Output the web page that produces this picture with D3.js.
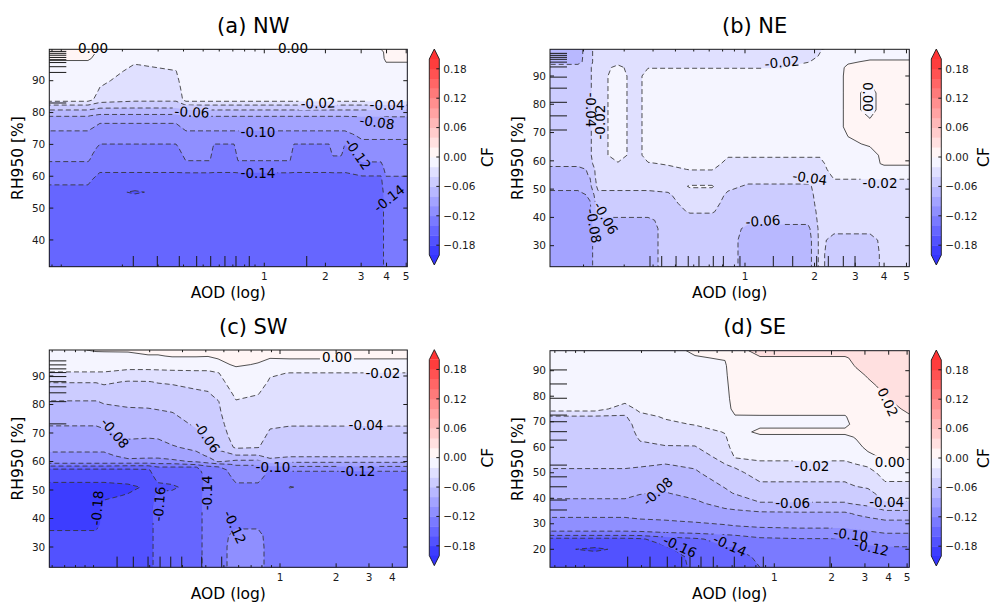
<!DOCTYPE html>
<html><head><meta charset="utf-8">
<script src="https://cdn.jsdelivr.net/npm/d3@7"></script>
<style>body{margin:0;background:#fff}svg{display:block;font-family:"DejaVu Sans",sans-serif}</style>
</head><body><svg id="chart" width="995" height="604"></svg>
<script>
// ---------------- DATA ----------------
const cfLevels = [-0.2,-0.18,-0.16,-0.14,-0.12,-0.1,-0.08,-0.06,-0.04,-0.02,0,0.02,0.04,0.06,0.08,0.1,0.12,0.14,0.16,0.18,0.2];
const cbTicks = [-0.18,-0.12,-0.06,0,0.06,0.12,0.18];
const xMajorTicks = [1,2,3,4,5];
const xMinorTicks = [0.06,0.07,0.08,0.09,0.1,0.2,0.3,0.4,0.5,0.6,0.7,0.8,0.9];
const yTicksA = [40,50,60,70,80,90];
const yTicksB = [30,40,50,60,70,80,90];
const yTicksC = [30,40,50,60,70,80,90];
const yTicksD = [20,30,40,50,60,70,80,90];

// (a) NW : AOD columns, RH rows, CF per column (bottom -> top)
const aodA = [0.0873,0.1353,0.1551,0.2307,0.3673,0.4114,0.540,0.565,0.709,0.742,1.339,1.401,2.083,2.180,2.387,2.497,3.029,3.757,3.977,5.063];
const rhA = [31.6,40,50,53,55,57,59,61,63,65,67,69,71,73,75,77,79,81,82.5,84,87,90,93,95,97,99,100];
const cfA = [
 [-.15,-.15,-.15,-.148,-.146,-.1405,-.137,-.133,-.126,-.1185,-.116,-.113,-.11,-.105,-.097,-.09,-.079,-.058,-.038,-.012,-.01,-.009,-.007,-.004,.002,.004,.004],
 [-.15,-.15,-.15,-.148,-.146,-.1405,-.137,-.133,-.126,-.1185,-.116,-.113,-.11,-.105,-.097,-.09,-.079,-.058,-.038,-.012,-.01,-.009,-.007,-.004,.002,.004,.004],
 [-.15,-.15,-.15,-.15,-.15,-.148,-.145,-.1405,-.135,-.13,-.126,-.1225,-.118,-.112,-.106,-.0985,-.084,-.064,-.048,-.03,-.0215,-.017,-.012,-.009,-.005,-.002,.0005],
 [-.15,-.15,-.15,-.152,-.163,-.15,-.146,-.1405,-.135,-.13,-.126,-.1225,-.118,-.112,-.106,-.0985,-.084,-.064,-.05,-.036,-.03,-.027,-.024,-.0205,-.012,-.008,.0005],
 [-.15,-.15,-.15,-.15,-.15,-.148,-.145,-.1405,-.135,-.13,-.126,-.1225,-.118,-.112,-.106,-.0985,-.084,-.064,-.05,-.036,-.03,-.025,-.0205,-.015,-.01,-.006,.0005],
 [-.15,-.15,-.15,-.15,-.15,-.148,-.145,-.1405,-.128,-.1195,-.116,-.113,-.11,-.105,-.097,-.09,-.079,-.058,-.038,-.012,-.01,-.008,-.007,-.006,-.005,-.004,.0005],
 [-.15,-.15,-.15,-.15,-.15,-.148,-.145,-.1405,-.128,-.1195,-.116,-.113,-.11,-.105,-.097,-.09,-.079,-.058,-.038,-.012,-.01,-.008,-.007,-.006,-.005,-.004,.0005],
 [-.15,-.15,-.15,-.15,-.15,-.148,-.145,-.1405,-.135,-.13,-.126,-.1225,-.118,-.105,-.097,-.09,-.079,-.058,-.038,-.012,-.01,-.008,-.007,-.006,-.005,-.004,.0005],
 [-.15,-.15,-.15,-.15,-.15,-.148,-.145,-.1405,-.135,-.13,-.126,-.1225,-.118,-.105,-.097,-.09,-.079,-.058,-.038,-.012,-.01,-.008,-.007,-.006,-.005,-.004,.0005],
 [-.15,-.15,-.15,-.15,-.15,-.148,-.145,-.1405,-.128,-.1195,-.116,-.113,-.11,-.105,-.097,-.09,-.079,-.058,-.038,-.012,-.01,-.008,-.007,-.006,-.005,-.004,.0005],
 [-.15,-.15,-.15,-.15,-.15,-.148,-.145,-.1405,-.128,-.1195,-.116,-.113,-.11,-.105,-.097,-.09,-.079,-.058,-.038,-.012,-.01,-.008,-.007,-.006,-.005,-.004,.0005],
 [-.15,-.15,-.15,-.15,-.15,-.148,-.145,-.1405,-.135,-.13,-.126,-.1225,-.118,-.105,-.097,-.09,-.079,-.058,-.038,-.012,-.01,-.008,-.007,-.006,-.005,-.004,.0005],
 [-.15,-.15,-.15,-.15,-.15,-.148,-.145,-.1405,-.135,-.13,-.126,-.1225,-.118,-.105,-.097,-.09,-.079,-.058,-.038,-.012,-.01,-.008,-.007,-.006,-.005,-.004,.0005],
 [-.15,-.15,-.15,-.15,-.15,-.148,-.145,-.1405,-.13,-.1245,-.118,-.114,-.11,-.105,-.097,-.09,-.079,-.058,-.038,-.012,-.01,-.008,-.007,-.006,-.005,-.004,.0005],
 [-.15,-.15,-.15,-.15,-.15,-.148,-.145,-.1405,-.13,-.1245,-.118,-.114,-.11,-.105,-.097,-.09,-.079,-.058,-.038,-.012,-.01,-.008,-.007,-.006,-.005,-.004,.0005],
 [-.15,-.15,-.15,-.15,-.15,-.148,-.145,-.1405,-.135,-.13,-.126,-.1225,-.118,-.105,-.097,-.09,-.079,-.058,-.038,-.012,-.01,-.008,-.007,-.006,-.005,-.004,.0005],
 [-.15,-.15,-.15,-.15,-.148,-.145,-.143,-.1375,-.126,-.118,-.112,-.106,-.1015,-.096,-.09,-.085,-.079,-.058,-.038,-.012,-.01,-.008,-.007,-.006,-.005,-.004,.0005],
 [-.15,-.15,-.15,-.15,-.148,-.145,-.143,-.1375,-.126,-.118,-.112,-.106,-.1015,-.096,-.09,-.085,-.079,-.058,-.038,-.012,-.01,-.008,-.007,-.006,-.005,-.004,.0005],
 [-.13,-.13,-.13,-.13,-.13,-.128,-.124,-.116,-.113,-.11,-.107,-.104,-.1015,-.096,-.09,-.085,-.079,-.058,-.038,-.012,-.01,-.008,-.006,-.002,.003,.004,.004],
 [-.13,-.13,-.13,-.13,-.13,-.128,-.124,-.116,-.113,-.11,-.107,-.104,-.1015,-.096,-.09,-.085,-.079,-.058,-.038,-.012,-.01,-.008,-.006,-.002,.003,.004,.004]
];
const labelsA = [
 {v:0,aod:0.1433,rh:100.4,r:0},{v:0,aod:1.385,rh:100.4,r:0},
 {v:-0.02,aod:1.839,rh:83.0,r:-2},{v:-0.04,aod:4.022,rh:82.4,r:0},
 {v:-0.06,aod:0.4403,rh:80.2,r:3},{v:-0.08,aod:3.592,rh:77.0,r:8},
 {v:-0.10,aod:0.931,rh:73.9,r:0},{v:-0.12,aod:2.894,rh:67.0,r:55},
 {v:-0.14,aod:0.931,rh:61.0,r:0},{v:-0.14,aod:4.115,rh:53.1,r:-38}
];
const rugAodA = [0.2263,0.2972,0.3813,0.4645,0.5445,0.640,0.7254,0.8434,1.618];
const rugRhA = [99.2,98.6,98.0,97.3,96.6,95.7,94.4,92.6,83.0];

// (b) NE
const aodB = [0.1432,0.1892,0.2133,0.2310,0.2819,0.3374,0.3803,0.4642,0.5778,0.7198,0.8441,1.0304,1.4175,1.8737,2.112,2.428,2.792,3.476,3.997,5.143];
const rhB = [22.6,27,32,36,39,42,45,48,51,53,55,57,59,62,66,72,78,84,90,93,95,97,99.4];
const cfB = [
 [-.09,-.09,-.09,-.09,-.09,-.09,-.09,-.09,-.07,-.07,-.07,-.07,-.05,-.05,-.05,-.05,-.05,-.05,-.05,-.05,-.068,-.07,-.07],
 [-.09,-.09,-.09,-.09,-.09,-.09,-.09,-.09,-.07,-.07,-.07,-.07,-.05,-.05,-.05,-.05,-.05,-.05,-.05,-.05,-.068,-.07,-.07],
 [-.085,-.085,-.085,-.085,-.085,-.085,-.082,-.075,-.065,-.062,-.058,-.055,-.045,-.042,-.042,-.042,-.042,-.042,-.042,-.042,-.045,-.045,-.045],
 [-.07,-.07,-.07,-.07,-.065,-.05,-.05,-.045,-.035,-.032,-.03,-.03,-.03,-.03,-.03,-.03,-.03,-.03,-.03,-.03,-.03,-.03,-.03],
 [-.07,-.07,-.07,-.07,-.065,-.05,-.05,-.045,-.035,-.032,-.03,-.028,-.022,-.01,-.01,-.01,-.01,-.01,-.01,-.015,-.026,-.03,-.03],
 [-.07,-.07,-.07,-.07,-.065,-.05,-.05,-.045,-.035,-.032,-.03,-.03,-.03,-.03,-.03,-.03,-.03,-.03,-.03,-.03,-.03,-.03,-.03],
 [-.07,-.07,-.07,-.07,-.065,-.05,-.05,-.045,-.035,-.032,-.03,-.028,-.022,-.01,-.01,-.01,-.01,-.01,-.01,-.021,-.03,-.03,-.03],
 [-.05,-.05,-.05,-.05,-.05,-.05,-.045,-.042,-.035,-.03,-.03,-.025,-.018,-.01,-.01,-.01,-.01,-.01,-.01,-.021,-.03,-.03,-.03],
 [-.05,-.05,-.05,-.05,-.05,-.038,-.034,-.03,-.018,-.03,-.028,-.019,-.012,-.01,-.01,-.01,-.01,-.01,-.01,-.021,-.03,-.03,-.03],
 [-.05,-.05,-.05,-.05,-.05,-.038,-.034,-.03,-.018,-.03,-.028,-.019,-.012,-.01,-.01,-.01,-.01,-.01,-.01,-.021,-.03,-.03,-.03],
 [-.05,-.05,-.05,-.05,-.05,-.05,-.046,-.043,-.036,-.03,-.03,-.028,-.026,-.018,-.01,-.01,-.01,-.01,-.01,-.021,-.03,-.03,-.03],
 [-.07,-.07,-.07,-.065,-.055,-.05,-.046,-.044,-.042,-.037,-.03,-.028,-.026,-.018,-.01,-.01,-.01,-.01,-.01,-.021,-.03,-.03,-.03],
 [-.07,-.07,-.07,-.065,-.055,-.05,-.046,-.044,-.042,-.037,-.03,-.028,-.026,-.018,-.01,-.01,-.01,-.01,-.01,-.021,-.03,-.03,-.03],
 [-.07,-.07,-.07,-.065,-.055,-.05,-.046,-.044,-.042,-.037,-.03,-.028,-.026,-.018,-.01,-.01,-.01,-.01,-.01,-.01,-.021,-.03,-.03],
 [-.035,-.035,-.035,-.035,-.035,-.035,-.035,-.035,-.035,-.033,-.03,-.028,-.026,-.018,-.01,-.01,-.01,-.01,-.01,-.01,-.014,-.018,-.022],
 [-.05,-.05,-.046,-.035,-.033,-.032,-.03,-.026,-.023,-.021,-.017,-.012,-.008,-.008,-.008,-.008,-.008,-.008,-.008,-.008,-.007,-.006,-.006],
 [-.05,-.05,-.046,-.035,-.033,-.032,-.03,-.026,-.023,-.021,-.017,-.012,-.008,-.006,-.003,.004,.004,.004,.004,.003,-.002,-.004,-.004],
 [-.05,-.05,-.046,-.035,-.033,-.032,-.03,-.026,-.023,-.021,-.017,-.012,-.008,-.006,.002,.003,-.003,-.003,.002,.004,.002,-.004,-.004],
 [-.035,-.035,-.035,-.033,-.033,-.032,-.03,-.026,-.023,-.021,-.017,-.008,.003,.004,.004,.004,.004,.004,.004,.004,.002,-.004,-.004],
 [-.035,-.035,-.035,-.033,-.033,-.032,-.03,-.026,-.023,-.021,-.017,-.008,.003,.004,.004,.004,.004,.004,.004,.004,.002,-.004,-.004]
];
const labelsB = [
 {v:-0.02,aod:1.446,rh:94.9,r:-5},{v:-0.04,aod:0.2154,rh:78.0,r:90},
 {v:-0.02,aod:0.2357,rh:73.7,r:-90},{v:0,aod:3.407,rh:82.6,r:90},
 {v:-0.04,aod:1.911,rh:54.0,r:8},{v:-0.02,aod:3.841,rh:52.2,r:0},
 {v:-0.06,aod:1.196,rh:38.8,r:-3},{v:-0.06,aod:0.2502,rh:39.8,r:60},
 {v:-0.08,aod:0.2220,rh:37.0,r:80}
];
const rugAodB = [0.388,0.436,0.503,0.568,0.632,0.729,0.806,0.951,1.326,1.609,2.043,2.294,2.664,2.994];
const rugRhB = [98.0,97.3,96.6,95.9,94.9,93.2,89.6,85.7,80.7,75.9,70.9];

// (c) SW
const aodC = [0.0579,0.1031,0.1138,0.1531,0.1960,0.2218,0.2636,0.3545,0.4112,0.4652,0.5807,0.7621,0.8839,1.1313,1.8537,4.816];
const rhC = [22.9,30,34,38,44,48,51,53.5,55.5,57,58,59,60,62,65,69,73,77,81,84,88,91,94,97,99.1];
const cfC = [
 [-.17,-.17,-.172,-.19,-.19,-.19,-.19,-.175,-.168,-.165,-.15,-.125,-.112,-.104,-.095,-.087,-.079,-.07,-.061,-.05,-.039,-.021,-.014,-.01,-.008],
 [-.17,-.17,-.172,-.19,-.19,-.19,-.19,-.175,-.168,-.165,-.15,-.125,-.112,-.104,-.095,-.087,-.079,-.07,-.061,-.05,-.039,-.021,-.014,-.006,.002],
 [-.17,-.17,-.17,-.17,-.172,-.185,-.19,-.175,-.168,-.165,-.15,-.125,-.112,-.104,-.095,-.085,-.077,-.068,-.058,-.048,-.037,-.021,-.014,-.005,.002],
 [-.17,-.17,-.17,-.17,-.17,-.178,-.186,-.172,-.168,-.165,-.15,-.13,-.105,-.095,-.087,-.077,-.07,-.064,-.056,-.048,-.041,-.025,-.013,-.004,.002],
 [-.17,-.17,-.17,-.17,-.17,-.172,-.176,-.17,-.166,-.163,-.15,-.13,-.106,-.096,-.088,-.078,-.07,-.063,-.056,-.048,-.0405,-.025,-.013,-.001,.004],
 [-.15,-.15,-.15,-.15,-.15,-.155,-.165,-.157,-.152,-.148,-.141,-.125,-.106,-.096,-.088,-.077,-.069,-.062,-.055,-.047,-.039,-.025,-.012,-.001,.004],
 [-.15,-.15,-.15,-.15,-.15,-.155,-.163,-.155,-.151,-.146,-.141,-.125,-.104,-.093,-.082,-.072,-.066,-.0605,-.053,-.046,-.038,-.025,-.01,.001,.004],
 [-.15,-.15,-.15,-.15,-.15,-.15,-.152,-.15,-.148,-.145,-.141,-.118,-.098,-.086,-.075,-.064,-.058,-.053,-.047,-.042,-.036,-.024,-.01,.001,.004],
 [-.13,-.13,-.13,-.13,-.13,-.13,-.132,-.133,-.133,-.132,-.125,-.11,-.09,-.078,-.068,-.058,-.052,-.048,-.044,-.041,-.034,-.024,-.01,.0005,.004],
 [-.13,-.13,-.13,-.13,-.13,-.13,-.132,-.132,-.132,-.132,-.122,-.105,-.078,-.066,-.057,-.05,-.046,-.043,-.041,-.034,-.026,-.021,-.004,.002,.005],
 [-.11,-.11,-.113,-.125,-.127,-.126,-.123,-.118,-.113,-.108,-.104,-.098,-.085,-.062,-.037,-.032,-.029,-.026,-.021,-.016,-.01,-.006,.002,.005,.006],
 [-.11,-.11,-.113,-.125,-.127,-.126,-.123,-.118,-.113,-.108,-.104,-.098,-.085,-.062,-.039,-.034,-.031,-.028,-.024,-.019,-.012,-.008,-.001,.004,.006],
 [-.13,-.13,-.13,-.13,-.13,-.13,-.128,-.126,-.124,-.121,-.105,-.09,-.07,-.052,-.048,-.043,-.038,-.034,-.03,-.027,-.022,-.018,-.008,.003,.006],
 [-.13,-.13,-.13,-.13,-.13,-.13,-.119,-.128,-.125,-.118,-.103,-.092,-.075,-.057,-.052,-.046,-.039,-.034,-.031,-.028,-.024,-.0205,-.006,.003,.006],
 [-.13,-.13,-.13,-.13,-.13,-.13,-.13,-.128,-.125,-.118,-.103,-.092,-.075,-.057,-.052,-.046,-.039,-.034,-.031,-.028,-.024,-.0205,-.006,.003,.006],
 [-.13,-.13,-.13,-.13,-.13,-.13,-.13,-.128,-.125,-.118,-.103,-.092,-.075,-.057,-.052,-.046,-.039,-.034,-.031,-.028,-.024,-.0205,-.006,.003,.006]
];
const labelsC = [
 {v:0,aod:2.021,rh:96.5,r:0},{v:-0.02,aod:3.566,rh:91.2,r:0},
 {v:-0.04,aod:2.892,rh:72.8,r:0},{v:-0.08,aod:0.1304,rh:70.0,r:50},
 {v:-0.06,aod:0.4061,rh:68.6,r:55},{v:-0.10,aod:0.917,rh:58.1,r:0},
 {v:-0.12,aod:2.620,rh:56.8,r:0},{v:-0.18,aod:0.1044,rh:43.7,r:-85},
 {v:-0.16,aod:0.2245,rh:45.1,r:-85},{v:-0.14,aod:0.4036,rh:49.0,r:-90},
 {v:-0.12,aod:0.5738,rh:37.0,r:65}
];
const rugAodC = [0.1337,0.1634,0.196,0.2274,0.2594,0.2972,0.3803,0.4868];
const rugRhC = [95.3,93.9,92.5,91.2,89.8,88.0,86.2,84.1,81.0,73.2];

// (d) SE
const aodD = [0.0660,0.1138,0.1637,0.1965,0.2659,0.3825,0.5502,0.6212,0.8407,1.3653,2.356,2.692,3.112,3.825,5.135];
const rhD = [12.9,17,20,22,24,26,28,31,34,38,42,46,50,53,56,60,64,66,69,72,75,79,84,88,92,95,97.8];
const cfD = [
 [-.17,-.172,-.176,-.174,-.166,-.13,-.112,-.105,-.095,-.085,-.074,-.07,-.066,-.055,-.051,-.05,-.048,-.047,-.046,-.042,-.012,-.01,-.009,-.008,-.007,-.006,-.005],
 [-.17,-.172,-.183,-.174,-.166,-.13,-.112,-.105,-.095,-.085,-.074,-.07,-.066,-.055,-.051,-.05,-.048,-.047,-.046,-.042,-.012,-.01,-.009,-.008,-.007,-.006,-.005],
 [-.17,-.172,-.176,-.174,-.166,-.13,-.112,-.105,-.095,-.085,-.074,-.07,-.066,-.055,-.051,-.05,-.048,-.047,-.046,-.042,-.03,-.012,-.009,-.008,-.007,-.006,-.005],
 [-.165,-.168,-.172,-.17,-.163,-.13,-.11,-.102,-.095,-.087,-.079,-.072,-.066,-.058,-.052,-.043,-.038,-.036,-.033,-.026,-.015,-.01,-.008,-.007,-.006,-.005,-.005],
 [-.166,-.166,-.163,-.158,-.15,-.125,-.108,-.101,-.094,-.088,-.081,-.075,-.068,-.061,-.054,-.041,-.035,-.031,-.024,-.018,-.012,-.009,-.008,-.007,-.006,-.005,-.005],
 [-.158,-.157,-.152,-.148,-.143,-.122,-.107,-.099,-.092,-.084,-.074,-.068,-.063,-.057,-.05,-.041,-.033,-.028,-.019,-.012,-.009,-.008,-.007,-.006,-.004,-.001,.002],
 [-.148,-.145,-.141,-.138,-.133,-.118,-.105,-.096,-.088,-.072,-.063,-.057,-.046,-.041,-.034,-.027,-.022,-.019,-.013,-.008,-.006,-.005,-.004,-.003,-.002,.001,.003],
 [-.146,-.144,-.141,-.139,-.132,-.116,-.104,-.094,-.086,-.07,-.059,-.053,-.045,-.037,-.019,-.012,-.008,-.006,-.004,-.001,.004,.006,.008,.01,.012,.014,.015],
 [-.14,-.138,-.132,-.128,-.123,-.112,-.102,-.092,-.084,-.061,-.052,-.041,-.032,-.025,-.016,-.009,-.003,.003,-.003,-.001,.005,.008,.01,.012,.015,.019,.024],
 [-.136,-.134,-.128,-.124,-.121,-.11,-.101,-.091,-.083,-.061,-.052,-.041,-.032,-.025,-.016,-.009,-.003,.003,-.003,-.001,.005,.008,.01,.012,.015,.019,.024],
 [-.136,-.134,-.128,-.124,-.121,-.11,-.101,-.091,-.083,-.061,-.052,-.041,-.032,-.025,-.016,-.009,-.003,.003,-.003,-.001,.005,.008,.01,.012,.015,.019,.024],
 [-.134,-.132,-.126,-.122,-.118,-.108,-.099,-.089,-.078,-.058,-.048,-.036,-.028,-.021,-.013,-.004,.001,.003,.004,.006,.008,.01,.013,.016,.021,.022,.024],
 [-.133,-.13,-.124,-.119,-.114,-.104,-.097,-.086,-.074,-.055,-.045,-.034,-.026,-.018,-.004,.003,.005,.006,.008,.01,.012,.014,.017,.021,.024,.025,.026],
 [-.132,-.128,-.122,-.118,-.11,-.101,-.094,-.082,-.068,-.042,-.032,-.021,-.014,-.006,.002,.005,.007,.009,.011,.013,.016,.019,.023,.026,.028,.03,.031],
 [-.132,-.127,-.122,-.118,-.11,-.101,-.094,-.082,-.068,-.042,-.032,-.021,-.014,-.006,.002,.005,.008,.012,.016,.019,.022,.026,.03,.034,.036,.037,.038]
];
const labelsD = [
 {v:0.02,aod:3.967,rh:77.7,r:65},{v:0,aod:4.059,rh:54.3,r:0},
 {v:-0.02,aod:1.579,rh:52.6,r:0},{v:-0.04,aod:3.905,rh:38.4,r:0},
 {v:-0.06,aod:1.250,rh:38.0,r:0},{v:-0.08,aod:0.2433,rh:42.8,r:-42},
 {v:-0.10,aod:2.533,rh:25.8,r:8},{v:-0.12,aod:3.255,rh:20.7,r:12},
 {v:-0.14,aod:0.5844,rh:21.6,r:25},{v:-0.16,aod:0.3190,rh:21.2,r:25}
];
const rugAodD = [0.1692,0.2218,0.2734,0.3256,0.3600,0.4114,0.4775,0.6160,0.8752,1.9645];
const rugRhD = [90.3,84.8,79.2,72.6,70.0,66.1,62.8,53.0,48.4,44.5,39.3,35.4];

// ---------------- LAYOUT ----------------
const panels = [
 {id:"a",title:"(a) NW",x0:49.3,x1:407.3,y0:49.3,y1:266.7,xDomain:[0.0873,5.063],yDomain:[31.6,99.86],aod:aodA,rh:rhA,cf:cfA,yTicks:yTicksA,labels:labelsA,rugX:rugAodA,rugY:rugRhA},
 {id:"b",title:"(b) NE",x0:550,x1:909.3,y0:49.3,y1:266.7,xDomain:[0.1432,5.143],yDomain:[22.57,99.44],aod:aodB,rh:rhB,cf:cfB,yTicks:yTicksB,labels:labelsB,rugX:rugAodB,rugY:rugRhB},
 {id:"c",title:"(c) SW",x0:49.3,x1:407.3,y0:350,y1:567.3,xDomain:[0.0579,4.816],yDomain:[22.88,99.12],aod:aodC,rh:rhC,cf:cfC,yTicks:yTicksC,labels:labelsC,rugX:rugAodC,rugY:rugRhC},
 {id:"d",title:"(d) SE",x0:550,x1:909.3,y0:350.7,y1:567.3,xDomain:[0.066,5.135],yDomain:[12.94,97.84],aod:aodD,rh:rhD,cf:cfD,yTicks:yTicksD,labels:labelsD,rugX:rugAodD,rugY:rugRhD}
];

const W=995,H=604;
const svg=d3.select("#chart");
const defs=svg.append("defs");
const INK="#1a1a1a";

function bwr(t){
  t=Math.max(0,Math.min(1,t));
  let r,g,b;
  if(t<0.5){r=g=2*t;b=1;}else{r=1;g=b=2-2*t;}
  const a=0.8;
  return d3.rgb((r*a+1-a)*255,(g*a+1-a)*255,(b*a+1-a)*255).formatHex();
}
function bandColor(lo){return bwr((lo+0.01+0.2)/0.4);}
function fmtLabel(v){return (v<-1e-9?"-":"")+Math.abs(v).toFixed(2);}
function fmtCb(v){return Math.abs(v)<1e-9?"0.00":(v<0?"\u2212":"")+Math.abs(v).toFixed(2);}

panels.forEach(p=>{
  const g=svg.append("g");
  const x=d3.scaleLog().domain(p.xDomain).range([p.x0,p.x1]);
  const y=d3.scaleLinear().domain(p.yDomain).range([p.y1,p.y0]);
  const clipId="clip-"+p.id;
  defs.append("clipPath").attr("id",clipId).append("rect")
    .attr("x",p.x0).attr("y",p.y0).attr("width",p.x1-p.x0).attr("height",p.y1-p.y0);

  const nx=p.aod.length, ny=p.rh.length;
  const grid=new Array(nx*ny);
  p.cf.forEach((col,i)=>col.forEach((v,j)=>{grid[j*nx+i]=v;}));
  const lx=p.aod.map(Math.log10);
  const interp=(arr,t)=>{const i0=Math.max(0,Math.min(arr.length-2,Math.floor(t)));return arr[i0]+(arr[i0+1]-arr[i0])*(t-i0);};
  const px=u=>x(Math.pow(10,interp(lx,u-0.5)));
  const py=v=>y(interp(p.rh,v-0.5));
  const toPath=mp=>mp.coordinates.map(poly=>poly.map(ring=>"M"+ring.map(pt=>px(pt[0]).toFixed(2)+","+py(pt[1]).toFixed(2)).join("L")+"Z").join("")).join("");
  const cs=d3.contours().size([nx,ny]).thresholds(cfLevels)(grid);

  // filled bands
  const fills=g.append("g").attr("clip-path",`url(#${clipId})`);
  fills.append("rect").attr("x",p.x0).attr("y",p.y0).attr("width",p.x1-p.x0).attr("height",p.y1-p.y0).attr("fill",bandColor(-0.22));
  cs.forEach(c=>{ if(c.coordinates.length) fills.append("path").attr("d",toPath(c)).attr("fill",bandColor(c.value)).attr("fill-rule","evenodd"); });

  // contour lines (masked around labels)
  const maskId="mask-"+p.id;
  const mask=defs.append("mask").attr("id",maskId).attr("maskUnits","userSpaceOnUse").attr("x",0).attr("y",0).attr("width",W).attr("height",H);
  mask.append("rect").attr("x",0).attr("y",0).attr("width",W).attr("height",H).attr("fill","#fff");
  const lines=g.append("g").attr("clip-path",`url(#${clipId})`).append("g").attr("mask",`url(#${maskId})`);
  cs.forEach(c=>{
    if(!c.coordinates.length) return;
    lines.append("path").attr("d",toPath(c)).attr("fill","none")
      .attr("stroke","#333").attr("stroke-width",0.85)
      .attr("stroke-dasharray",c.value< -1e-9?"5,3":null);
  });

  // contour labels
  p.labels.forEach(l=>{
    const cx=x(l.aod), cy=y(l.rh);
    const tr=`translate(${cx.toFixed(2)},${cy.toFixed(2)}) rotate(${l.r})`;
    const t=g.append("text").attr("transform",tr).attr("text-anchor","middle").attr("dominant-baseline","central")
      .attr("font-size",13.5).attr("fill","#000").text(fmtLabel(l.v));
    const w=t.node().getComputedTextLength();
    mask.append("rect").attr("x",-w/2-2).attr("y",-6.5).attr("width",w+4).attr("height",13).attr("transform",tr).attr("fill","#000");
  });

  // rug marks
  p.rugX.forEach(v=>g.append("line").attr("x1",x(v)).attr("x2",x(v)).attr("y1",p.y1).attr("y2",p.y1-10.7).attr("stroke",INK).attr("stroke-width",1));
  p.rugY.forEach(v=>g.append("line").attr("x1",p.x0).attr("x2",p.x0+17).attr("y1",y(v)).attr("y2",y(v)).attr("stroke",INK).attr("stroke-width",1));

  // ticks
  const inX=v=>v>=p.xDomain[0]&&v<=p.xDomain[1];
  xMajorTicks.filter(inX).forEach(v=>{
    const xx=x(v);
    g.append("line").attr("x1",xx).attr("x2",xx).attr("y1",p.y1).attr("y2",p.y1-4).attr("stroke",INK);
    g.append("line").attr("x1",xx).attr("x2",xx).attr("y1",p.y0).attr("y2",p.y0+4).attr("stroke",INK);
    g.append("text").attr("x",xx).attr("y",p.y1+13.5).attr("text-anchor","middle").attr("font-size",10.5).attr("fill",INK).text(v);
  });
  xMinorTicks.filter(inX).forEach(v=>{
    const xx=x(v);
    g.append("line").attr("x1",xx).attr("x2",xx).attr("y1",p.y1).attr("y2",p.y1-2.2).attr("stroke",INK);
    g.append("line").attr("x1",xx).attr("x2",xx).attr("y1",p.y0).attr("y2",p.y0+2.2).attr("stroke",INK);
  });
  p.yTicks.forEach(v=>{
    const yy=y(v);
    g.append("line").attr("x1",p.x0).attr("x2",p.x0+4).attr("y1",yy).attr("y2",yy).attr("stroke",INK);
    g.append("line").attr("x1",p.x1).attr("x2",p.x1-4).attr("y1",yy).attr("y2",yy).attr("stroke",INK);
    g.append("text").attr("x",p.x0-4).attr("y",yy+3.7).attr("text-anchor","end").attr("font-size",10.5).attr("fill",INK).text(v);
  });

  // frame
  g.append("rect").attr("x",p.x0).attr("y",p.y0).attr("width",p.x1-p.x0).attr("height",p.y1-p.y0).attr("fill","none").attr("stroke",INK).attr("stroke-width",1);

  // titles & axis labels
  g.append("text").attr("x",(p.x0+p.x1)/2+25).attr("y",p.y0-16.3).attr("text-anchor","middle").attr("font-size",21).attr("fill","#000").text(p.title);
  g.append("text").attr("x",(p.x0+p.x1)/2).attr("y",p.y1+31.3).attr("text-anchor","middle").attr("font-size",15.5).attr("fill","#000").text("AOD (log)");
  g.append("text").attr("transform",`translate(${p.x0-26.6},${(p.y0+p.y1)/2}) rotate(-90)`).attr("text-anchor","middle").attr("font-size",15.5).attr("fill","#000").text("RH950 [%]");

  // colorbar
  const cbX=p.x1+22, cbW=10, cbMid=(p.y0+p.y1)/2-1;
  const cb=d3.scaleLinear().domain([-0.2,0.2]).range([cbMid+98,cbMid-98]);
  for(let i=0;i<cfLevels.length-1;i++){
    const lo=cfLevels[i],hi=cfLevels[i+1];
    g.append("rect").attr("x",cbX).attr("y",cb(hi)).attr("width",cbW).attr("height",cb(lo)-cb(hi)+0.4).attr("fill",bandColor(lo));
  }
  g.append("path").attr("d",`M${cbX},${cb(-0.2)}L${cbX+cbW},${cb(-0.2)}L${cbX+cbW/2},${cb(-0.2)+10}Z`).attr("fill",bandColor(-0.22));
  g.append("path").attr("d",`M${cbX},${cb(0.2)}L${cbX+cbW},${cb(0.2)}L${cbX+cbW/2},${cb(0.2)-10}Z`).attr("fill",bandColor(0.2));
  g.append("path").attr("d",`M${cbX},${cb(0.2)}L${cbX+cbW/2},${cb(0.2)-10}L${cbX+cbW},${cb(0.2)}L${cbX+cbW},${cb(-0.2)}L${cbX+cbW/2},${cb(-0.2)+10}L${cbX},${cb(-0.2)}Z`)
    .attr("fill","none").attr("stroke",INK).attr("stroke-width",0.9);
  cbTicks.forEach(v=>{
    const yy=cb(v);
    g.append("line").attr("x1",cbX+cbW).attr("x2",cbX+cbW-3).attr("y1",yy).attr("y2",yy).attr("stroke",INK);
    g.append("text").attr("x",cbX+cbW+4).attr("y",yy+3.7).attr("font-size",10.5).attr("fill",INK).text(fmtCb(v));
  });
  const cfX=Math.min(cbX+64,W-6);
  g.append("text").attr("transform",`translate(${cfX},${cbMid}) rotate(-90)`).attr("text-anchor","middle").attr("font-size",15.5).attr("fill","#000").text("CF");
});
</script></body></html>
